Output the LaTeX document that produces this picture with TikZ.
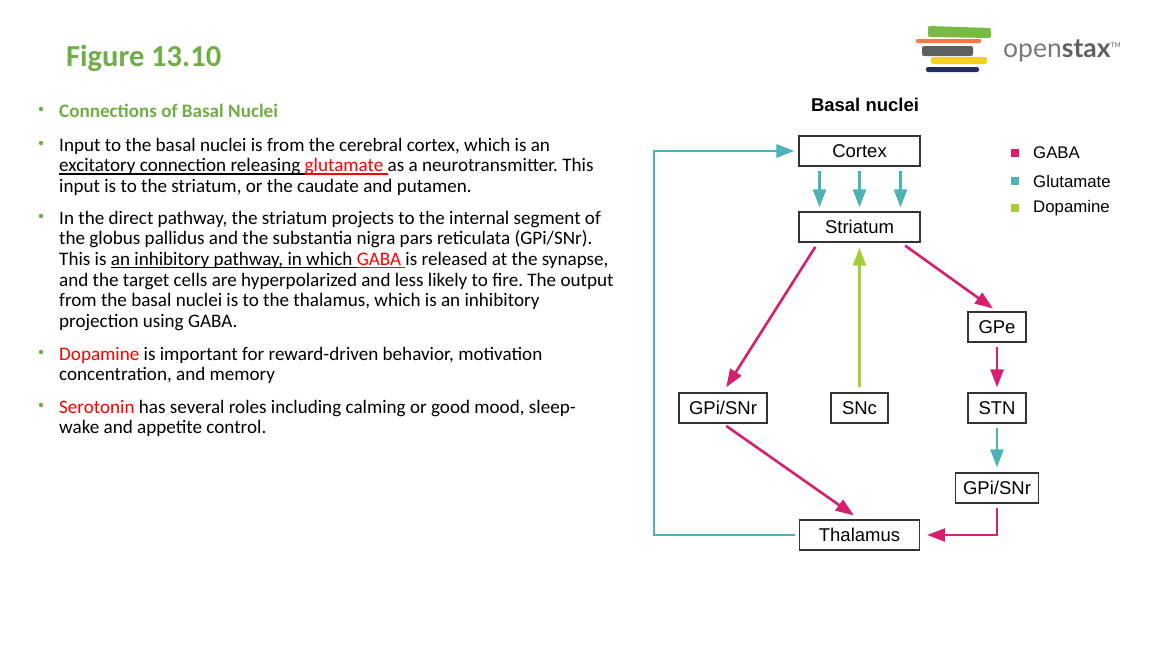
\documentclass[tikz,border=0pt]{standalone}
\usepackage{fontspec}
\setmainfont{Carlito}
\newfontfamily\diagfont{Liberation Sans}
\newfontfamily\logofont{Lato}
\usetikzlibrary{arrows.meta}
\definecolor{slidegreen}{RGB}{112,173,71}
\definecolor{gabacol}{RGB}{216,30,110}
\definecolor{glucol}{RGB}{75,178,182}
\definecolor{dopacol}{RGB}{166,206,57}
\definecolor{logogrey}{RGB}{95,96,98}
\newcommand\undl[1]{\setbox0\hbox{#1}\rlap{\rule[-2.8pt]{\wd0}{1.2pt}}\box0}
\frenchspacing

\begin{document}
\begin{tikzpicture}[x=1pt,y=-1pt,
    box/.style={draw=black!80, line width=1.3pt, minimum height=30pt, inner sep=0pt, font=\diagfont\fontsize{18.5}{22}\selectfont},
    gaba/.style={draw=gabacol, line width=2.6pt, -{Triangle[length=18pt,width=13pt]}},
    glu/.style={draw=glucol, line width=2.6pt, -{Triangle[length=18pt,width=13pt]}},
    dopa/.style={draw=dopacol, line width=2.6pt, -{Triangle[length=18pt,width=13pt]}},
    txt/.style={anchor=base west, inner sep=0pt, font=\fontsize{19.1}{20.7}\selectfont},
    dot/.style={circle, fill=slidegreen, inner sep=0pt, minimum size=4.5pt},
    key/.style={inner sep=0pt, minimum size=8.5pt},
    keytxt/.style={anchor=west, inner sep=0pt, font=\diagfont\fontsize{16.8}{20}\selectfont}]
    \fill[white] (0,0) rectangle (1153,648);
    \useasboundingbox (0,0) rectangle (1153,648);

    \node[anchor=base west, inner sep=0pt, text=slidegreen, font=\bfseries\fontsize{30.5}{34}\selectfont] (title) at (66,66) {Figure 13.10};

    \node[dot] (d1) at (41,109) {};
    \node[txt, text=slidegreen, font=\bfseries\fontsize{19.1}{20.7}\selectfont] (b1) at (59,117) {Connections of Basal Nuclei};
    \node[dot] (d2) at (41,143) {};
    \node[txt] (b2) at (59,151) {\parbox[t]{600pt}{Input to the basal nuclei is from the cerebral cortex, which is an\\
        \undl{excitatory connection releasing\ }\textcolor{red}{\undl{glutamate\ }}as a neurotransmitter. This\\
        input is to the striatum, or the caudate and putamen.}};
    \node[dot] (d3) at (41,216) {};
    \node[txt] (b3) at (59,224) {\parbox[t]{600pt}{In the direct pathway, the striatum projects to the internal segment of\\
        the globus pallidus and the substantia nigra pars reticulata (GPi/SNr).\\
        This is \undl{an inhibitory pathway, in which\ }\textcolor{red}{\undl{GABA\ }}is released at the synapse,\\
        and the target cells are hyperpolarized and less likely to fire. The output\\
        from the basal nuclei is to the thalamus, which is an inhibitory\\
        projection using GABA.}};
    \node[dot] (d4) at (41,352) {};
    \node[txt] (b4) at (59,360) {\parbox[t]{600pt}{\leavevmode\textcolor{red}{Dopamine} is important for reward-driven behavior, motivation\\
        concentration, and memory}};
    \node[dot] (d5) at (41,405) {};
    \node[txt] (b5) at (59,413) {\parbox[t]{600pt}{\leavevmode\textcolor{red}{Serotonin} has several roles including calming or good mood, sleep-\\
        wake and appetite control.}};

    \fill[rounded corners=2pt, fill={rgb,255:red,120;green,186;blue,67}] (928,26) -- (991,28) -- (991,38) -- (928,37) -- cycle;
    \fill[rounded corners=1pt, fill={rgb,255:red,243;green,125;blue,64}] (916,39) rectangle (981,43);
    \fill[rounded corners=2pt, fill=logogrey] (922,46) rectangle (973,56);
    \fill[rounded corners=2pt, fill={rgb,255:red,244;green,208;blue,35}] (931,57) rectangle (987,64);
    \fill[rounded corners=2pt, fill={rgb,255:red,35;green,45;blue,98}] (926,67) rectangle (979,72);
    \node[anchor=base west, inner sep=0pt, font=\logofont\fontsize{26.5}{26}\selectfont] (logo) at (1003,57) {\textcolor{logogrey!85}{open}\textcolor{logogrey}{\bfseries stax}\raisebox{10pt}{\textcolor{logogrey}{\fontsize{6.5}{6.5}\selectfont TM}}};

    \node[font=\diagfont\bfseries\fontsize{18.5}{22}\selectfont] (head) at (865,105) {Basal nuclei};

    \node[box, minimum width=121pt] (cortex) at (859.5,151) {Cortex};
    \node[box, minimum width=121pt] (striatum) at (859.5,227) {Striatum};
    \node[box, minimum width=58pt] (gpe) at (997,327) {GPe};
    \node[box, minimum width=58pt] (stn) at (997,408) {STN};
    \node[box, minimum width=83pt] (gpiR) at (997,488) {GPi/SNr};
    \node[box, minimum width=88pt] (gpiL) at (723,408) {GPi/SNr};
    \node[box, minimum width=57pt] (snc) at (859.5,408) {SNc};
    \node[box, minimum width=120pt] (thal) at (859.5,535) {Thalamus};

    \node[key, fill=gabacol] (kgaba) at (1015,153) {};
    \node[keytxt] (tgaba) at (1033,153) {GABA};
    \node[key, fill=glucol] (kglu) at (1015,181) {};
    \node[keytxt] (tglu) at (1033,181) {Glutamate};
    \node[key, fill=dopacol] (kdopa) at (1015,208) {};
    \node[keytxt] (tdopa) at (1033,208) {Dopamine};

    \draw[glu, shorten <=4pt, shorten >=4pt] ([xshift=-40pt]cortex.south) -- ([xshift=-40pt]striatum.north);
    \draw[glu, shorten <=4pt, shorten >=4pt] (cortex.south) -- (striatum.north);
    \draw[glu, shorten <=4pt, shorten >=4pt] ([xshift=41pt]cortex.south) -- ([xshift=41pt]striatum.north);
    \draw[gaba, shorten <=5pt, shorten >=6pt] ([xshift=-41.5pt]striatum.south) -- (gpiL.north);
    \draw[dopa, shorten <=5pt, shorten >=5pt] (snc.north) -- (striatum.south);
    \draw[gaba, shorten <=5pt, shorten >=5pt] ([xshift=41.5pt]striatum.south) -- (gpe.north);
    \draw[gaba, shorten <=4pt, shorten >=5pt] (gpe.south) -- (stn.north);
    \draw[glu, shorten <=4pt, shorten >=5pt] (stn.south) -- (gpiR.north);
    \draw[gaba, shorten <=4pt, shorten >=7pt] (gpiL.south) -- (thal.north);
    \draw[gaba, shorten <=4pt, shorten >=7pt] (gpiR.south) |- (thal.east);
    \coordinate (back) at (654,535);
    \draw[glu, shorten <=4pt, shorten >=4pt] (thal.west) -- (back) |- (cortex.west);
\end{tikzpicture}
\end{document}
